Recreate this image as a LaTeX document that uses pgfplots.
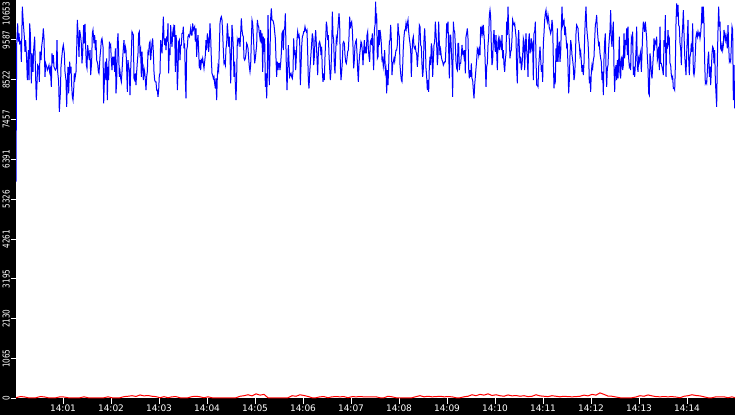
\documentclass[border=0pt]{standalone}
\usepackage{fontspec}
\setmainfont{DejaVu Sans}
\newfontfamily\ylabfont{DejaVu Sans}[FakeStretch=0.76]
\usepackage{pgfplots}
\pgfplotsset{compat=1.18}
\begin{document}
\begin{tikzpicture}
\path[use as bounding box, fill=black] (0,0) rectangle (735bp,415bp);
\begin{axis}[
  at={(16bp,16.5bp)}, anchor=south west, scale only axis,
  width=719bp, height=398.5bp,
  xmin=0, xmax=1078.5, ymin=0, ymax=10653,
  axis background/.style={fill=white},
  axis line style={draw=none},
  xtick={70.5,142.5,214.5,286.5,358.5,430.5,502.5,574.5,646.5,718.5,790.5,862.5,934.5,1006.5},
  xticklabels={14:01,14:02,14:03,14:04,14:05,14:06,14:07,14:08,14:09,14:10,14:11,14:12,14:13,14:14},
  ytick={0,1065.3,2130.6,3195.9,4261.2,5326.5,6391.8,7457.1,8522.4,9587.7,10653},
  yticklabels={0,1065,2130,3195,4261,5326,6391,7457,8522,9587,{}},
  tick align=outside, major tick length=5bp, minor tick num=0,
  tick pos=left,
  tick style={white, line width=1bp},
  xticklabel style={white, font=\fontsize{9bp}{10bp}\selectfont, inner sep=1bp},
  yticklabel style={white, rotate=90, anchor=south, font=\ylabfont\fontsize{9.5bp}{10bp}\selectfont, inner sep=1bp},
  /pgf/number format/assume math mode=true,
  clip=true,
]
\addplot[red, line width=1bp, mark=none] table[x=x,y=y] {
x y
0 20
6 50
12 45
18 20
24 20
30 20
36 50
42 45
48 20
54 20
60 20
66 45
72 40
78 20
84 20
90 20
96 20
102 45
108 20
114 20
120 20
126 20
132 20
138 45
144 20
150 20
156 20
162 50
168 60
174 75
180 55
186 95
192 70
198 80
204 60
210 50
216 20
222 50
228 20
234 45
240 50
246 20
252 20
258 20
264 50
270 60
276 45
282 20
288 45
294 20
300 20
306 20
312 20
318 20
324 20
330 20
336 60
342 75
348 100
354 70
360 125
366 90
372 110
378 20
384 20
390 20
396 20
402 20
408 20
414 75
420 60
426 100
432 80
438 55
444 20
450 20
456 45
462 50
468 20
474 45
480 50
486 45
492 50
498 20
504 50
510 45
516 50
522 45
528 45
534 45
540 45
546 20
552 20
558 60
564 45
570 20
576 20
582 20
588 20
594 20
600 50
606 75
612 45
618 60
624 45
630 50
636 60
642 45
648 50
654 45
660 20
666 20
672 45
678 60
684 100
690 75
696 110
702 90
708 125
714 80
720 100
726 75
732 60
738 95
744 70
750 80
756 60
762 75
768 50
774 60
780 100
786 70
792 60
798 50
804 75
810 60
816 45
822 60
828 50
834 45
840 50
846 60
852 90
858 70
864 110
870 90
876 150
882 110
888 65
894 60
900 40
906 20
912 20
918 20
924 20
930 40
936 75
942 60
948 95
954 70
960 50
966 45
972 50
978 45
984 50
990 40
996 20
1002 60
1008 75
1014 100
1020 80
1026 70
1032 45
1038 20
1044 20
1050 45
1056 45
1062 45
1068 20
1074 45
1078.5 20
};
\addplot[blue, line width=1bp, mark=none] table[x=x,y=y] {
x y
0 5800
1 9449
2.5 10028
3.5 9538
4.5 9761
5.5 9493
7 9538
8 9002
9.5 10475
11 10028
12.5 9671
13.5 9270
14.5 9582
16 9047
17 8512
18.5 9315
19.5 8512
20.5 10028
21.5 9761
23 8422
24 9225
25.5 8735
26.5 9315
28 9671
29.5 8556
30.5 7976
31.5 8422
32.5 8913
34 8868
35 8467
36 9270
37.5 9047
38.5 9404
40 9627
41 9895
42 9627
43.5 8601
44.5 8958
46 8868
47 8779
48 8824
49.5 8913
50.5 8735
51.5 8824
53 8333
54 9225
55 8958
56 9181
57 8868
59 8779
60.5 8824
61.5 9582
62.5 8735
64 8467
65 7664
66.5 8155
67.5 8868
68.5 9092
70 9359
71 9449
72.5 9225
73.5 8735
75 8512
76 7798
77 8422
78 8868
79 8155
80.5 9002
81.5 8690
82.5 8868
83.5 8378
84.5 8065
85.5 7976
86.5 8244
87.5 8690
88.5 8556
90 8735
91 9315
92 10118
93 9805
94.5 9136
95.5 9850
97 9671
98 9493
99 8958
100 9225
101.5 9984
102.5 9493
103.5 10011
104.5 9404
105.5 8913
106.5 8824
107.5 9449
109 9181
110 9047
111 9315
112 8645
113.5 9002
114.5 9761
115.5 9850
117 9493
118 9716
119 9315
120 9582
121 9047
122.5 8958
123.5 8735
124.5 8690
126 9136
127 9315
128 9582
129 9627
130.5 9404
131.5 7887
132.5 8467
134 9002
135 8512
136 9092
137 7976
138 8868
139 8512
140 9538
141 9404
142 9449
143 9047
144 8779
145 9136
146 8913
147 9136
148 8735
149 9359
150 8155
151 8467
152 9493
153 9761
154 9225
155 8601
156 8735
157 8556
158 8467
159 8735
160 9092
161 9359
162 9582
163 9225
164 9404
165 9315
166 8824
167 8199
168 9047
169 8868
170 8779
171 8110
172 8779
173 9225
174 9805
175 9761
176 9716
177 8556
178 8512
179 8690
180 8378
181 8735
182 9002
183 9225
184 9761
185 9805
186 9225
187 9315
188 8601
189 9270
190 8868
191 8512
192 8824
193 8735
194 8512
195 8244
196 8601
197 8735
198 9270
199 9225
200 9493
201 9538
202 9047
203 9270
204 9493
205 9627
206 9270
207 8735
208 8512
209 8467
210 8467
211 8244
212 8244
213 8065
214 8244
215 8645
216 8690
217 9582
218 9359
219 9225
220 9716
221 10207
222 9627
223 9449
224 9627
225 9315
226 9627
227 9582
228 10028
229 8690
230 9359
231 9181
232 9984
233 9627
234 9404
235 9761
236 9895
237 9671
238 9984
239 8735
240 9716
241 9538
242 8244
243 8735
244 9538
245 9582
246 9047
247 9449
248 9449
249 9761
250 9761
251 9939
252 9359
253 9493
254 8512
255 8021
256 9315
257 9404
258 9671
259 9716
260 9671
261 9761
262 9895
263 9716
264 9716
265 10028
266 9850
267 9895
268 9939
269 9538
270 9895
271 9136
272 9538
273 9716
274 9315
275 8824
276 9047
277 8779
278 9047
279 9002
280 9092
281 8958
282 8824
283 9002
284 9181
285 9582
286 9315
287 9761
288 9627
289 9270
290 9538
291 10028
292 9671
293 9092
294 8690
295 8645
296 8556
297 8601
298 8422
299 8288
300 8556
301 7976
302 8601
303 8868
304 8779
305 9359
306 10028
307 10162
308 10207
309 10118
310 9761
311 9315
312 8958
313 9002
314 8913
315 9359
316 9493
317 10028
318 9761
319 9404
320 9671
321 9225
322 8422
323 9136
324 9984
325 9716
326 9359
327 8601
328 9002
329 8378
330 7976
331 8601
332 9582
333 9493
334 9627
335 9627
336 9404
337 9761
338 10162
339 9850
340 9716
341 9671
342 9092
343 9047
344 9092
345 9225
346 9493
347 9449
348 9359
349 9092
350 8868
351 8735
352 8913
353 9538
354 10118
355 10028
356 9716
357 9315
358 8958
359 9092
360 9270
361 9449
362 10118
363 9984
364 9939
365 9761
366 9627
367 9850
368 9493
369 9761
370 8735
371 9671
372 9270
373 9627
374 8333
375 8690
376 8021
377 8645
378 10251
379 9225
380 8378
381 9181
382 10162
383 10430
384 10118
385 10118
386 10073
387 9984
388 9805
389 9627
390 9092
391 8601
392 9002
393 8779
394 8958
395 8958
396 8779
397 8958
398 9225
399 9761
400 9805
401 9315
402 9850
403 9895
404 10296
405.5 8868
406.5 8244
407.5 8779
408.5 9449
409.5 9002
410.5 8601
411.5 8645
412.5 8690
413.5 8601
414.5 8556
415.5 8735
416.5 9627
417.5 9181
418.5 9315
419.5 8779
420.5 9136
421.5 9582
422.5 9805
423.5 9671
424.5 9716
425.5 9582
426.5 8378
427.5 8868
428.5 9404
429.5 9671
430.5 9716
431.5 9805
432.5 9805
433.5 9939
434.5 9850
435.5 9805
436.5 9850
437.5 9270
438.5 8512
439.5 8288
440.5 8690
441.5 8958
442.5 9225
443.5 9493
444.5 9761
445.5 9627
446.5 8913
447.5 9136
448.5 9582
449.5 9850
450.5 9493
451.5 9092
452.5 8645
453.5 9225
454.5 9493
455.5 9538
456.5 9449
457.5 9181
458.5 9404
459.5 8735
460.5 8467
461.5 8690
462.5 8512
463.5 9136
464.5 9582
465.5 10073
466.5 9939
467.5 9582
468.5 9716
469.5 9181
470.5 8824
471.5 8512
472.5 8779
473.5 9359
474.5 10341
475.5 9716
476.5 9582
477.5 8913
478.5 8690
479.5 9225
480.5 9627
481.5 9538
482.5 9805
483.5 10028
484.5 10296
485.5 10028
486.5 8913
487.5 8512
488.5 8735
489.5 9002
490.5 9493
491.5 9538
492.5 9493
493.5 9181
494.5 9002
495.5 8958
496.5 9092
497.5 9270
498.5 9315
499.5 9671
500.5 10207
501.5 9895
502.5 10028
503.5 10073
504.5 9850
505.5 9404
506.5 8824
507.5 9047
508.5 9449
509.5 9538
510.5 9582
511.5 9225
512.5 8779
513.5 8467
514.5 8958
515.5 9181
516.5 9359
517.5 9538
518.5 9493
519.5 9270
520.5 8913
521.5 9270
522.5 9582
523.5 9225
524.5 9404
525.5 9225
526.5 9716
527.5 9805
528.5 9359
529.5 9136
530.5 9002
531.5 9538
532.5 9582
533.5 9449
534.5 9761
535.5 9225
536.5 8779
537.5 9850
538.5 9984
539.5 10608
540 10028
541 10296
542 9092
543 9136
544 9850
545 9449
546 9850
547 9716
548 9493
549 9047
550 9092
551 8868
552 9002
553 9315
554 8735
555 8824
556 8155
557 8779
558 8378
559 8868
560 9538
561 9582
562 9984
563 9582
564 8645
565 8913
566 9002
567 9092
568 9002
569 9181
570 9315
571 9315
572 9449
573 10028
574 9761
575 9671
576 8913
577 8690
578 8512
579 8467
580 8868
581 9404
582 9671
583 9850
584 9850
585 10028
586 9895
587 10028
588 10118
589 9805
590 9627
591 9493
592 9315
593 8601
594 9225
595 9582
596 9671
597 9404
598 9359
599 9404
600 9270
601 9225
602 8868
603 9136
604 9449
605 9984
606 9939
607 9449
608 9404
609 8913
610 8601
611 8824
612 9582
613 9895
614 9493
615 8824
616 8601
617 8244
618 8512
619 8199
620 8868
621 9136
622 8913
623 9493
624 9359
625 8601
626 9047
627 9449
628 9538
629 10073
630 9761
631 9449
632 8913
633 9181
634 10073
635 9493
636 9181
637 9315
638 9136
639 9047
640 9002
641 8913
642 8958
643 9002
644 9002
645 9404
646 10028
647 9761
648 10073
649 9315
650 8556
651 9716
652 9716
653 9315
654 8913
655 8065
656 10073
657 9850
658 9805
659 9449
660 9002
661 8824
662 8779
663 9493
664 9493
665 8779
666 8958
667 8958
668 9181
669 9449
670 9225
671 9270
672 9136
673 9315
674 8690
675 9671
676 9761
677 9895
678 9627
679 8824
680 8556
681 8779
682 8601
683 8958
684 8556
685 8512
686 8244
687 8021
688 8378
689 8601
690 8824
691 9047
692 9359
693 9315
694 9181
695 9404
696 9181
697 9939
698 9761
699 9895
700 9761
701 9984
702 9716
703 9404
704 8868
705 8333
706 8868
707 8958
708 9449
709 9671
710 10251
711 10385
712 10207
713 9404
714 8913
715 9047
716 9582
717 9850
718 9493
719 9270
720 9716
721 9270
722 8779
723 9538
724 9627
725 9315
726 9582
727 9493
728 9315
729 9716
730 9092
731 9315
732 8913
733 8735
734 9047
735 9225
736 10073
737 9716
738 10475
739 9895
740 9582
741 9092
742 9270
743 9315
744 9627
745 10118
746 10028
747 9984
748 10028
749 9850
750 9671
751 8824
752 8422
753 9493
754 9850
755 9359
756 8958
757 9136
758 8779
759 8913
760 9181
761 9627
762 9538
763 8779
764 9359
765 9761
766 9315
767 9092
768 8601
769 9582
770 9761
771 9225
772 9359
773 9627
774 9359
775 9449
776 8512
777 9761
778 9805
779 10073
780 9092
781 8378
782 8378
783 8333
784 8868
785 9136
786 9404
787 9092
788 8735
789 8913
790 8467
791 9493
792 9761
793 10118
794 10296
795 10385
796 10162
797 10073
798 10251
799 10118
800 9895
801 9850
802 9761
803 9850
804 10118
805 9939
806 9047
807 8288
808 8601
809 8512
810 9359
811 9002
812 9895
813 9002
814 9315
815 9538
816 9002
817 9225
818 9939
819 10475
820 9984
821 10073
822 10118
823 9716
824 9939
825 9671
826 9404
827 9449
828 8868
829 8155
830 8512
831 9181
832 9582
833 9449
834 9181
835 9047
836 8868
837 8512
838 8645
839 9047
840 9761
841 9984
842 9939
843 9895
844 9582
845 9449
846 9181
847 9270
848 9002
849 8735
850 8913
851 8645
852 8958
853 9671
854 10162
855 10475
856 9939
857 9716
858 9538
859 9181
860 8422
861 8601
862 8199
863 8735
864 8913
865 8824
866 9047
867 9136
868 9582
869 9984
870 10073
871 10251
872 9850
873 9627
874 9449
875 9493
876 9225
877 9092
878 9002
879 8512
880 8735
881 8110
882 9092
883 9538
884 9761
885 8868
886 8333
887 8824
888 8913
889 9359
890 9627
891 9850
892 10385
893 9582
894 9404
895 9805
896 10073
897 8868
898 8199
899 8779
900 8913
901 8512
902 9047
903 8556
904 9002
905 9671
906 8690
907 8556
908 9092
909 9136
910 8779
911 8913
912 9761
913 9092
914 9582
915 9449
916 9895
917 9181
918 9939
919 9092
920 8868
921 8913
922 8779
923 9627
924 9538
925 9805
926 8645
927 8868
928 8601
929 8913
930 9315
931 9939
932 8868
933 8735
934 9092
935 9002
936 9181
937 9270
938 8735
939 9225
940 9761
941 10073
942 9939
943 9805
944 10073
945 9850
946 9627
947 9136
948 8824
949 8155
950 8110
951 9225
952 9047
953 8690
954 8556
955 8868
956 9181
957 9627
958 9404
959 9538
960 9493
961 9671
962 9047
963 9136
964 9404
965 8779
966 9939
967 8958
968 8958
969 8868
970 8779
971 8645
972 9582
973 9404
974 10251
975 8601
976 9449
977 9404
978 9850
979 9493
980 9582
981 8958
982 8913
983 8645
984 8556
985 8601
986 8288
987 8288
988 8244
989 8868
990 10028
991 10564
992 10207
993 10519
994 9984
995 9939
996 9493
997 9359
998 8913
999 9671
1000 9939
1001 10385
1002 9761
1003 9181
1004 8913
1005 8645
1006 9225
1007 9671
1008 10118
1009 9092
1010 8645
1011 9136
1012 9225
1013 9493
1014 9270
1015 10028
1016 8735
1017 8645
1018 8779
1019 9225
1020 9671
1021 9761
1022 9671
1023 9805
1024 9716
1025 9761
1026 9627
1027 9761
1028 10028
1029 10475
1030 10028
1031 10475
1032 10028
1033 9002
1034 8422
1035 8467
1036 8422
1037 8735
1038 9092
1039 9270
1040 8601
1041 8868
1042 8378
1043 8779
1044 9225
1045 9404
1046 9359
1047 8958
1048 9315
1049 8512
1050 8155
1051 7798
1052 9047
1053 9850
1054 10475
1055 9939
1056 10073
1057 9359
1058 9315
1059 9449
1060 9315
1061 9449
1062 9850
1063 9716
1064 9582
1065 9716
1066 9582
1067 9359
1068 9984
1069 9449
1070 9002
1071 9047
1072 9002
1073 9449
1074 9939
1075 9850
1076 7976
1077 8913
1078 7753
};
\end{axis}
\node[white, rotate=90, anchor=south east, inner sep=0pt, font=\ylabfont\fontsize{9.5bp}{10bp}\selectfont] at (10bp,413bp) {10653};
\end{tikzpicture}
\end{document}
